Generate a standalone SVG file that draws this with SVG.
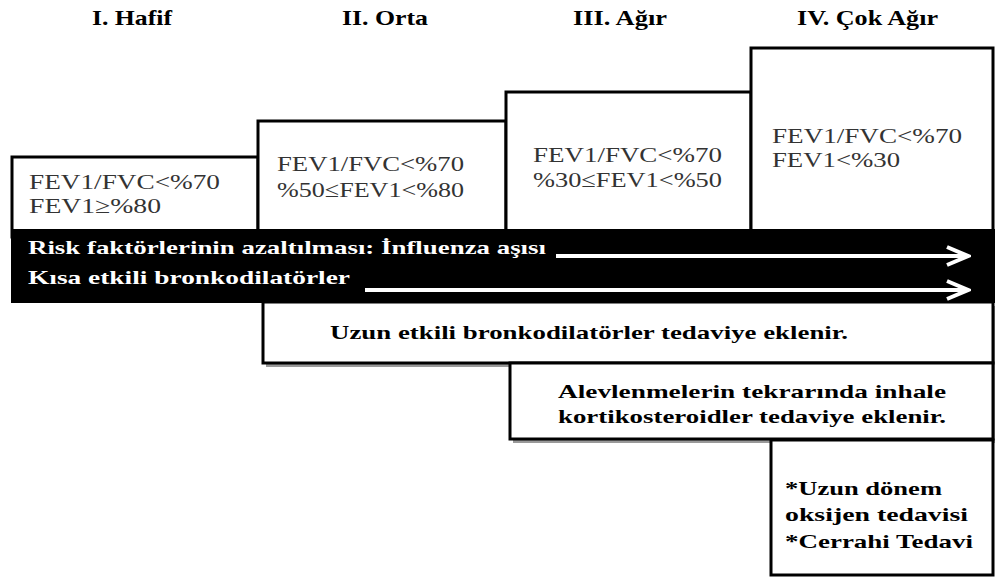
<svg xmlns="http://www.w3.org/2000/svg" width="995" height="587" viewBox="0 0 995 587" font-family="Liberation Serif, DejaVu Serif, serif">
<defs>
<style>
.hd{font-weight:bold;font-size:21px;fill:#000}
.fev{font-size:22px;fill:#333}
.bw{font-weight:bold;font-size:19px;fill:#fff}
.bt{font-weight:bold;font-size:19px;fill:#000}
.box{fill:#fff;stroke:#000;stroke-width:3}
.arr{fill:none;stroke:#fff;stroke-width:4}
</style>
<marker id="ah" viewBox="0 0 26 24" refX="23" refY="12" markerWidth="26" markerHeight="24" markerUnits="userSpaceOnUse" orient="auto">
<path d="M2,3 L23,12 L2,21" fill="none" stroke="#fff" stroke-width="4" stroke-linejoin="miter"/>
</marker>
</defs>
<rect width="995" height="587" fill="#fff"/>
<g id="headings">
<text class="hd" x="92" y="25" textLength="80" lengthAdjust="spacingAndGlyphs">I. Hafif</text>
<text class="hd" x="342" y="25" textLength="86" lengthAdjust="spacingAndGlyphs">II. Orta</text>
<text class="hd" x="573" y="25" textLength="94" lengthAdjust="spacingAndGlyphs">III. Ağır</text>
<text class="hd" x="797" y="25" textLength="141" lengthAdjust="spacingAndGlyphs">IV. Çok Ağır</text>
</g>
<g id="stage1">
<rect class="box" x="12" y="157" width="246" height="80"/>
<text class="fev" x="29" y="189" textLength="191" lengthAdjust="spacingAndGlyphs">FEV1/FVC&lt;%70</text>
<text class="fev" x="29" y="213" textLength="132" lengthAdjust="spacingAndGlyphs">FEV1≥%80</text>
</g>
<g id="stage2">
<rect class="box" x="258" y="121" width="248" height="116"/>
<text class="fev" x="277" y="171" textLength="187" lengthAdjust="spacingAndGlyphs">FEV1/FVC&lt;%70</text>
<text class="fev" x="277" y="197" textLength="187" lengthAdjust="spacingAndGlyphs">%50≤FEV1&lt;%80</text>
</g>
<g id="stage3">
<rect class="box" x="506" y="92" width="245" height="145"/>
<text class="fev" x="533" y="162" textLength="189" lengthAdjust="spacingAndGlyphs">FEV1/FVC&lt;%70</text>
<text class="fev" x="533" y="187" textLength="189" lengthAdjust="spacingAndGlyphs">%30≤FEV1&lt;%50</text>
</g>
<g id="stage4">
<rect class="box" x="751" y="48" width="242" height="189"/>
<text class="fev" x="772" y="143" textLength="190" lengthAdjust="spacingAndGlyphs">FEV1/FVC&lt;%70</text>
<text class="fev" x="772" y="167" textLength="128" lengthAdjust="spacingAndGlyphs">FEV1&lt;%30</text>
</g>
<g id="band">
<rect x="11" y="229" width="984" height="74" fill="#000"/>
<text class="bw" x="28" y="254" textLength="518" lengthAdjust="spacingAndGlyphs">Risk faktörlerinin azaltılması: İnfluenza aşısı</text>
<text class="bw" x="28" y="284" textLength="322" lengthAdjust="spacingAndGlyphs">Kısa etkili bronkodilatörler</text>
</g>
<g id="uzun">
<rect x="266" y="306" width="729" height="61" fill="#999"/>
<rect class="box" x="263" y="302" width="730" height="61"/>
<text class="bt" x="589" y="339" text-anchor="middle" textLength="518" lengthAdjust="spacingAndGlyphs">Uzun etkili bronkodilatörler tedaviye eklenir.</text>
</g>
<g id="alev">
<rect x="513" y="367" width="482" height="76" fill="#999"/>
<rect class="box" x="510" y="363" width="483" height="76"/>
<text class="bt" x="752" y="398" text-anchor="middle" textLength="388" lengthAdjust="spacingAndGlyphs">Alevlenmelerin tekrarında inhale</text>
<text class="bt" x="752" y="423" text-anchor="middle" textLength="388" lengthAdjust="spacingAndGlyphs">kortikosteroidler tedaviye eklenir.</text>
</g>
<g id="ileri">
<rect class="box" x="771" y="440" width="222" height="135"/>
<text class="bt" x="785" y="495" textLength="157" lengthAdjust="spacingAndGlyphs">*Uzun dönem</text>
<text class="bt" x="785" y="521" textLength="183" lengthAdjust="spacingAndGlyphs">oksijen tedavisi</text>
<text class="bt" x="785" y="548" textLength="188" lengthAdjust="spacingAndGlyphs">*Cerrahi Tedavi</text>
</g>
<g id="connectors">
<line class="arr" x1="556" y1="256" x2="968" y2="256" marker-end="url(#ah)"/>
<line class="arr" x1="365" y1="290" x2="968" y2="290" marker-end="url(#ah)"/>
</g>
</svg>
